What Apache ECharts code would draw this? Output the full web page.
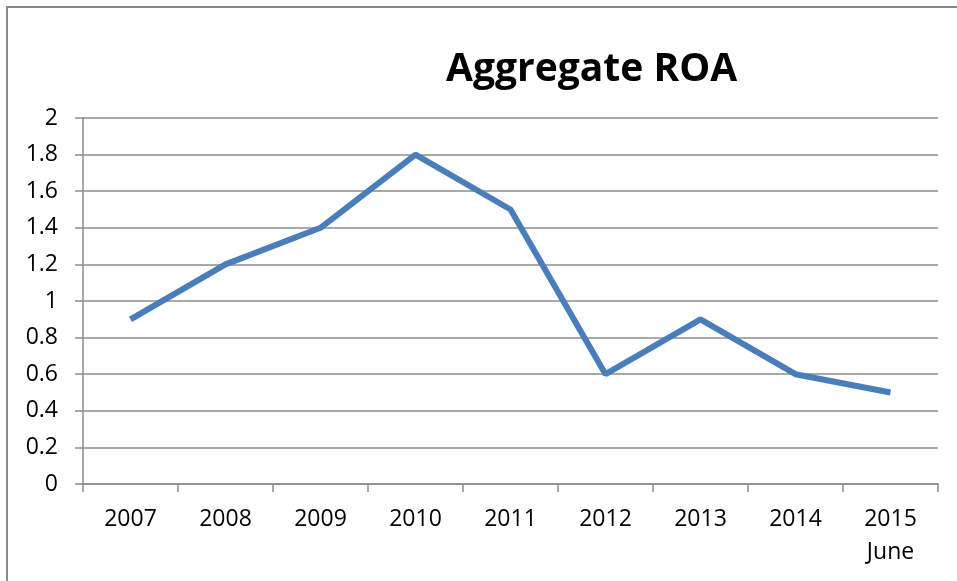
<!DOCTYPE html>
<html><head><meta charset="utf-8">
<script src="https://cdn.jsdelivr.net/npm/echarts@6/dist/echarts.min.js"></script>
<style>html,body{margin:0;padding:0;background:#fff}#c{width:957px;height:581px}</style>
</head><body><div id="c"></div>
<script>
const categories = ['2007','2008','2009','2010','2011','2012','2013','2014','2015\nJune'];
const roaValues = [0.9, 1.2, 1.4, 1.8, 1.5, 0.6, 0.9, 0.6, 0.5];
const titleText = 'Aggregate ROA';
const FONT = '"Open Sans", "Noto Sans", sans-serif';
const chart = echarts.init(document.getElementById('c'), null, {renderer:'canvas'});
chart.setOption({
  animation:false,
  backgroundColor:'#fff',
  graphic:[{type:'rect', shape:{x:7,y:7,width:1200,height:1200}, style:{fill:'none', stroke:'#8a8a8a', lineWidth:2}}],
  title:{text:titleText, left:441, top:45, textStyle:{fontFamily:FONT, fontWeight:'bold', fontSize:39, color:'#000'}},
  grid:{left:83, right:19, top:118, bottom:97},
  xAxis:{type:'category', data:categories, boundaryGap:true,
    axisLine:{lineStyle:{color:'#8c8c8c', width:1.5}},
    axisTick:{show:true, length:8, inside:false, lineStyle:{color:'#8c8c8c', width:1.5}},
    axisLabel:{fontFamily:FONT, fontSize:23, color:'#000', margin:19, lineHeight:33, interval:0}},
  yAxis:{type:'value', min:0, max:2, interval:0.2,
    axisLine:{show:true, lineStyle:{color:'#8c8c8c', width:1.5}},
    axisTick:{show:true, length:8, lineStyle:{color:'#8c8c8c', width:1.5}},
    splitLine:{lineStyle:{color:'#8c8c8c', width:1.5}},
    axisLabel:{fontFamily:FONT, fontSize:23, color:'#000', margin:25}},
  series:[{type:'line', data:roaValues, symbol:'none', lineStyle:{color:'#4a7ebb', width:6}, itemStyle:{color:'#4a7ebb'}}]
});
</script></body></html>
